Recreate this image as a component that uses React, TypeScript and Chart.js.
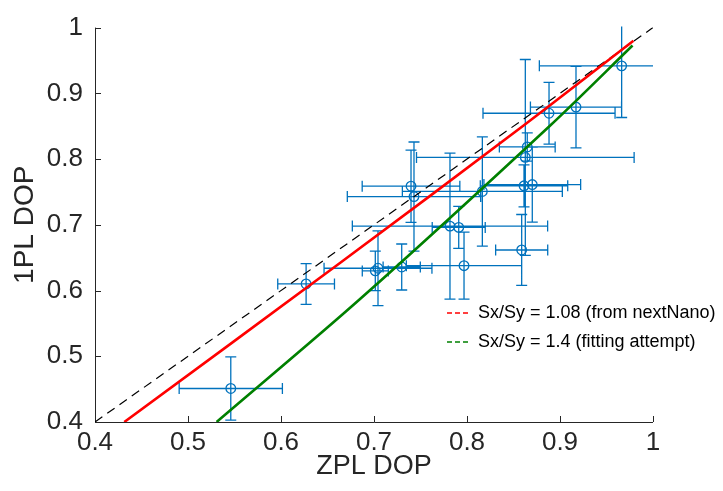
import React, { useEffect, useRef } from 'react';
import { Chart, registerables } from 'chart.js';

Chart.register(...registerables);

// Measured data points (ZPL DOP vs 1PL DOP) with symmetric error bars
const zplDop = [0.546, 0.627, 0.7014, 0.7043, 0.7298, 0.7398, 0.743, 0.7817, 0.7911, 0.7968, 0.8165, 0.8588, 0.8613, 0.8627, 0.8648, 0.8702, 0.8882, 0.9172, 0.9663];
const onePlDop = [0.451, 0.610, 0.6299, 0.6339, 0.6358, 0.7587, 0.743, 0.698, 0.696, 0.6378, 0.7507, 0.6617, 0.7593, 0.8025, 0.8184, 0.7612, 0.8697, 0.8791, 0.9418];
const zplErr = [0.0555, 0.0305, 0.014, 0.058, 0.02, 0.0525, 0.0717, 0.105, 0.0285, 0.062, 0.086, 0.028, 0.047, 0.117, 0.03, 0.052, 0.071, 0.049, 0.0885];
const onePlErr = [0.048, 0.031, 0.03, 0.057, 0.035, 0.055, 0.083, 0.111, 0.032, 0.051, 0.083, 0.054, 0.032, 0.149, 0.0215, 0.057, 0.047, 0.062, 0.0786];

// Model curves
const redX = [0.4315, 0.6634, 0.8605, 0.979];
const redY = [0.4, 0.6418, 0.8507, 0.98];
const greenX = [0.5308, 0.685, 0.8892, 0.978];
const greenY = [0.4, 0.587, 0.8507, 0.9727];
const diagX = [0.4, 1];
const diagY = [0.4, 1];

const legendLabels = ['Sx/Sy = 1.08 (from nextNano)', 'Sx/Sy = 1.4 (fitting attempt)'];
const legendColors = ['rgb(255,0,0)', 'rgb(0,128,0)'];

const xTicks = [0.4, 0.5, 0.6, 0.7, 0.8, 0.9, 1];
const xTickLabels = ['0.4', '0.5', '0.6', '0.7', '0.8', '0.9', '1'];
const yTicks = [0.4, 0.5, 0.6, 0.7, 0.8, 0.9, 1];
const yTickLabels = ['0.4', '0.5', '0.6', '0.7', '0.8', '0.9', '1'];

const xTitle = 'ZPL DOP';
const yTitle = '1PL DOP';

const BLUE = 'rgb(0,114,189)';
const AXIS = 'rgb(38,38,38)';
const FONT = "'Liberation Sans', Arial, Helvetica, sans-serif";

const axesPlugin = {
  id: 'matlabAxes',
  beforeDatasetsDraw(chart: any) {
    const { ctx, chartArea, scales } = chart;
    const xs = scales.x;
    const ys = scales.y;
    ctx.save();
    ctx.strokeStyle = AXIS;
    ctx.lineWidth = 1;
    ctx.beginPath();
    ctx.moveTo(chartArea.left + 0.5, chartArea.top);
    ctx.lineTo(chartArea.left + 0.5, chartArea.bottom + 0.5);
    ctx.lineTo(chartArea.right, chartArea.bottom + 0.5);
    xTicks.forEach((v) => {
      const px = Math.round(xs.getPixelForValue(v)) + 0.5;
      ctx.moveTo(px, chartArea.bottom);
      ctx.lineTo(px, chartArea.bottom - 6);
    });
    yTicks.forEach((v) => {
      const py = Math.round(ys.getPixelForValue(v)) + 0.5;
      ctx.moveTo(chartArea.left, py);
      ctx.lineTo(chartArea.left + 6, py);
    });
    ctx.stroke();

    // error bars
    ctx.beginPath();
    ctx.rect(chartArea.left, chartArea.top - 1, chartArea.right - chartArea.left, chartArea.bottom - chartArea.top + 1);
    ctx.clip();
    ctx.strokeStyle = BLUE;
    ctx.lineWidth = 1.3;
    const cap = 5.5;
    ctx.beginPath();
    zplDop.forEach((xv, i) => {
      const yv = onePlDop[i];
      const px = xs.getPixelForValue(xv);
      const py = ys.getPixelForValue(yv);
      const x0 = xs.getPixelForValue(xv - zplErr[i]);
      const x1 = xs.getPixelForValue(xv + zplErr[i]);
      const y0 = ys.getPixelForValue(yv - onePlErr[i]);
      const y1 = ys.getPixelForValue(yv + onePlErr[i]);
      ctx.moveTo(x0, py); ctx.lineTo(x1, py);
      ctx.moveTo(x0, py - cap); ctx.lineTo(x0, py + cap);
      ctx.moveTo(x1, py - cap); ctx.lineTo(x1, py + cap);
      ctx.moveTo(px, y0); ctx.lineTo(px, y1);
      ctx.moveTo(px - cap, y0); ctx.lineTo(px + cap, y0);
      ctx.moveTo(px - cap, y1); ctx.lineTo(px + cap, y1);
    });
    ctx.stroke();
    ctx.restore();
  },
  afterDraw(chart: any) {
    const { ctx } = chart;
    ctx.save();
    ctx.font = `18px ${FONT}`;
    ctx.textBaseline = 'middle';
    ctx.textAlign = 'left';
    const rows = [313, 342];
    legendLabels.forEach((label, i) => {
      const yy = rows[i];
      ctx.strokeStyle = legendColors[i];
      ctx.lineWidth = 1.5;
      ctx.setLineDash([5, 3]);
      ctx.beginPath();
      ctx.moveTo(447, yy);
      ctx.lineTo(471, yy);
      ctx.stroke();
      ctx.setLineDash([]);
      ctx.fillStyle = '#000';
      ctx.fillText(label, 478, yy);
    });
    ctx.restore();
  },
};

export default function App() {
  const canvasRef = useRef<HTMLCanvasElement | null>(null);

  useEffect(() => {
    const canvas = canvasRef.current;
    if (!canvas) return;
    const chart = new Chart(canvas, {
      type: 'scatter',
      data: {
        datasets: [
          {
            label: legendLabels[0],
            type: 'line',
            data: redX.map((x, i) => ({ x, y: redY[i] })),
            borderColor: 'rgb(255,0,0)',
            borderWidth: 2.6,
            pointRadius: 0,
            fill: false,
            tension: 0.3,
            order: 1,
          },
          {
            label: legendLabels[1],
            type: 'line',
            data: greenX.map((x, i) => ({ x, y: greenY[i] })),
            borderColor: 'rgb(0,128,0)',
            borderWidth: 2.6,
            pointRadius: 0,
            fill: false,
            tension: 0.3,
            order: 1,
          },
          {
            label: 'y = x',
            type: 'line',
            data: diagX.map((x, i) => ({ x, y: diagY[i] })),
            borderColor: '#000',
            borderWidth: 1.2,
            borderDash: [9, 6],
            pointRadius: 0,
            fill: false,
            order: 2,
          },
          {
            label: 'data',
            data: zplDop.map((x, i) => ({ x, y: onePlDop[i] })),
            backgroundColor: 'rgba(0,0,0,0)',
            borderColor: BLUE,
            borderWidth: 1.3,
            pointRadius: 4.8,
            order: 3,
          },
        ],
      },
      options: {
        responsive: false,
        animation: false,
        devicePixelRatio: 1,
        layout: { padding: { left: 0, top: 20, right: 70, bottom: 0 } },
        plugins: { legend: { display: false }, tooltip: { enabled: false } },
        scales: {
          x: {
            type: 'linear',
            min: 0.4,
            max: 1,
            afterBuildTicks: (s: any) => { s.ticks = xTicks.map((v) => ({ value: v })); },
            afterFit: (s: any) => { s.height = 69; },
            grid: { display: false, drawTicks: false },
            border: { display: false },
            ticks: {
              padding: 5,
              color: AXIS,
              font: { family: FONT, size: 26 },
              callback: (_v: any, i: number) => xTickLabels[i],
              maxRotation: 0,
            },
            title: {
              display: true,
              text: xTitle,
              color: AXIS,
              font: { family: FONT, size: 27 },
              padding: { top: 0, bottom: 8 },
            },
          },
          y: {
            type: 'linear',
            min: 0.4,
            max: 1,
            afterBuildTicks: (s: any) => { s.ticks = yTicks.map((v) => ({ value: v })); },
            afterFit: (s: any) => { s.width = 95; },
            grid: { display: false, drawTicks: false },
            border: { display: false },
            ticks: {
              padding: 12,
              color: AXIS,
              font: { family: FONT, size: 26 },
              callback: (_v: any, i: number) => yTickLabels[i],
            },
            title: {
              display: true,
              text: yTitle,
              color: AXIS,
              font: { family: FONT, size: 28 },
              padding: { top: 8, bottom: 0 },
            },
          },
        },
      },
      plugins: [axesPlugin],
    });
    return () => chart.destroy();
  }, []);

  return (
    <div style={{ position: 'fixed', left: 0, top: 0, width: 723, height: 491, background: '#fff' }}>
      <canvas ref={canvasRef} width={723} height={491} style={{ display: 'block' }} />
    </div>
  );
}
